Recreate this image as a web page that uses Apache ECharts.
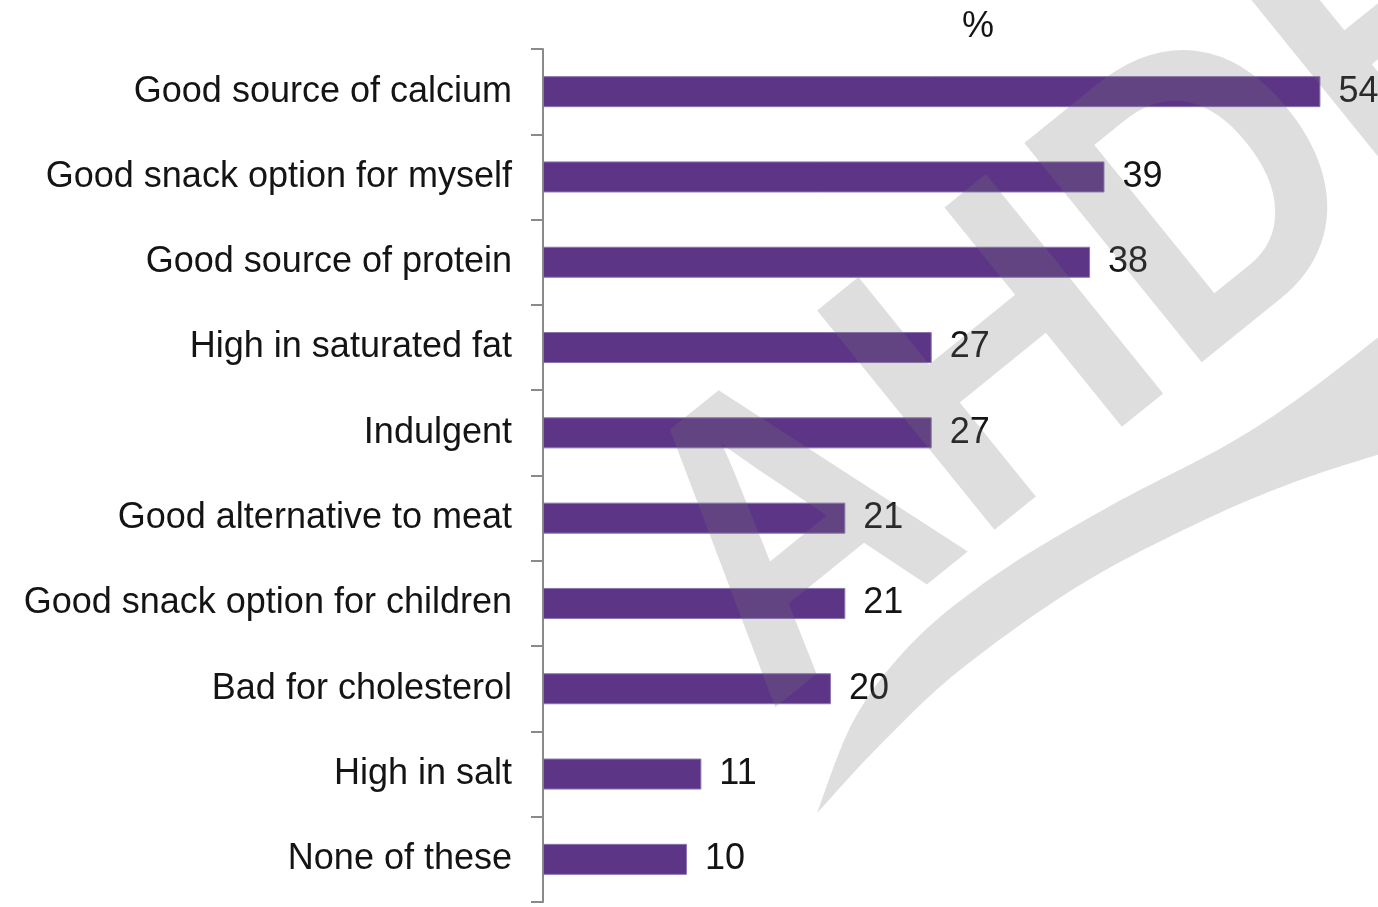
<!DOCTYPE html>
<html>
<head>
<meta charset="utf-8">
<script src="https://cdn.jsdelivr.net/npm/echarts@6/dist/echarts.min.js"></script>
<style>
  html, body { margin: 0; padding: 0; background: #ffffff; }
  #chart { width: 1378px; height: 907px; }
</style>
</head>
<body>
<div id="chart"></div>
<script>
// Perceptions of the product, % of respondents
const categories = [
  'Good source of calcium',
  'Good snack option for myself',
  'Good source of protein',
  'High in saturated fat',
  'Indulgent',
  'Good alternative to meat',
  'Good snack option for children',
  'Bad for cholesterol',
  'High in salt',
  'None of these'
];
const values = [54, 39, 38, 27, 27, 21, 21, 20, 11, 10];
const unitLabel = '%';

const FONT = '"Liberation Sans", Arial, sans-serif';
const BAR = '#5D3587';
const MARK = 'rgba(118,118,118,0.24)';

// Catmull-Rom spline through a list of points (used for the watermark swoosh edges)
function spline(pts, steps) {
  const out = [];
  for (let i = 0; i < pts.length - 1; i++) {
    const p0 = pts[Math.max(i - 1, 0)], p1 = pts[i], p2 = pts[i + 1], p3 = pts[Math.min(i + 2, pts.length - 1)];
    for (let s = 0; s < steps; s++) {
      const t = s / steps, t2 = t * t, t3 = t2 * t;
      const f = (a, b, c, d) => 0.5 * ((2 * b) + (-a + c) * t + (2 * a - 5 * b + 4 * c - d) * t2 + (-a + 3 * b - 3 * c + d) * t3);
      out.push([f(p0[0], p1[0], p2[0], p3[0]), f(p0[1], p1[1], p2[1], p3[1])]);
    }
  }
  out.push(pts[pts.length - 1]);
  return out;
}
const swooshUpper = [[817, 813], [855, 718], [915, 640], [1000, 572], [1110, 506], [1230, 443], [1310, 390], [1400, 320]];
const swooshLower = [[1400, 448], [1300, 480], [1200, 522], [1080, 585], [960, 670], [880, 745], [817, 813]];
const swoosh = spline(swooshUpper, 12).concat(spline(swooshLower, 12));

const chart = echarts.init(document.getElementById('chart'), null, { renderer: 'canvas' });

chart.setOption({
  animation: false,
  backgroundColor: '#ffffff',
  title: {
    text: unitLabel,
    left: 973,
    top: 4,
    textAlign: 'center',
    textStyle: { fontFamily: FONT, fontSize: 36, fontWeight: 'normal', color: '#141414' }
  },
  grid: { left: 543, right: 0, top: 49, bottom: 5, containLabel: false },
  xAxis: {
    type: 'value',
    min: 0,
    max: 58,
    show: false
  },
  yAxis: {
    type: 'category',
    data: categories,
    inverse: true,
    axisLine: { show: true, lineStyle: { color: '#8a8a8a', width: 2 } },
    axisTick: { show: true, length: 12, lineStyle: { color: '#8a8a8a', width: 2 } },
    axisLabel: { margin: 31, fontFamily: FONT, fontSize: 36, color: '#141414' },
    splitLine: { show: false }
  },
  series: [{
    type: 'bar',
    data: values,
    barWidth: 31,
    itemStyle: { color: BAR, borderColor: '#8a73b2', borderWidth: 1 },
    label: {
      show: true,
      position: 'right',
      distance: 18,
      fontFamily: FONT,
      fontSize: 36,
      color: '#141414'
    }
  }],
  graphic: {
    elements: [
      {
        type: 'text',
        x: 697,
        y: 625,
        rotation: 0.68,
        scaleX: 0.9,
        z: 100,
        silent: true,
        style: {
          text: 'AHDB',
          font: 'bold 410px ' + FONT,
          fill: MARK,
          textAlign: 'left',
          textVerticalAlign: 'middle',
          align: 'left',
          verticalAlign: 'middle'
        }
      },
      {
        type: 'polygon',
        z: 100,
        silent: true,
        shape: { points: swoosh },
        style: { fill: MARK }
      }
    ]
  }
});
</script>
</body>
</html>
